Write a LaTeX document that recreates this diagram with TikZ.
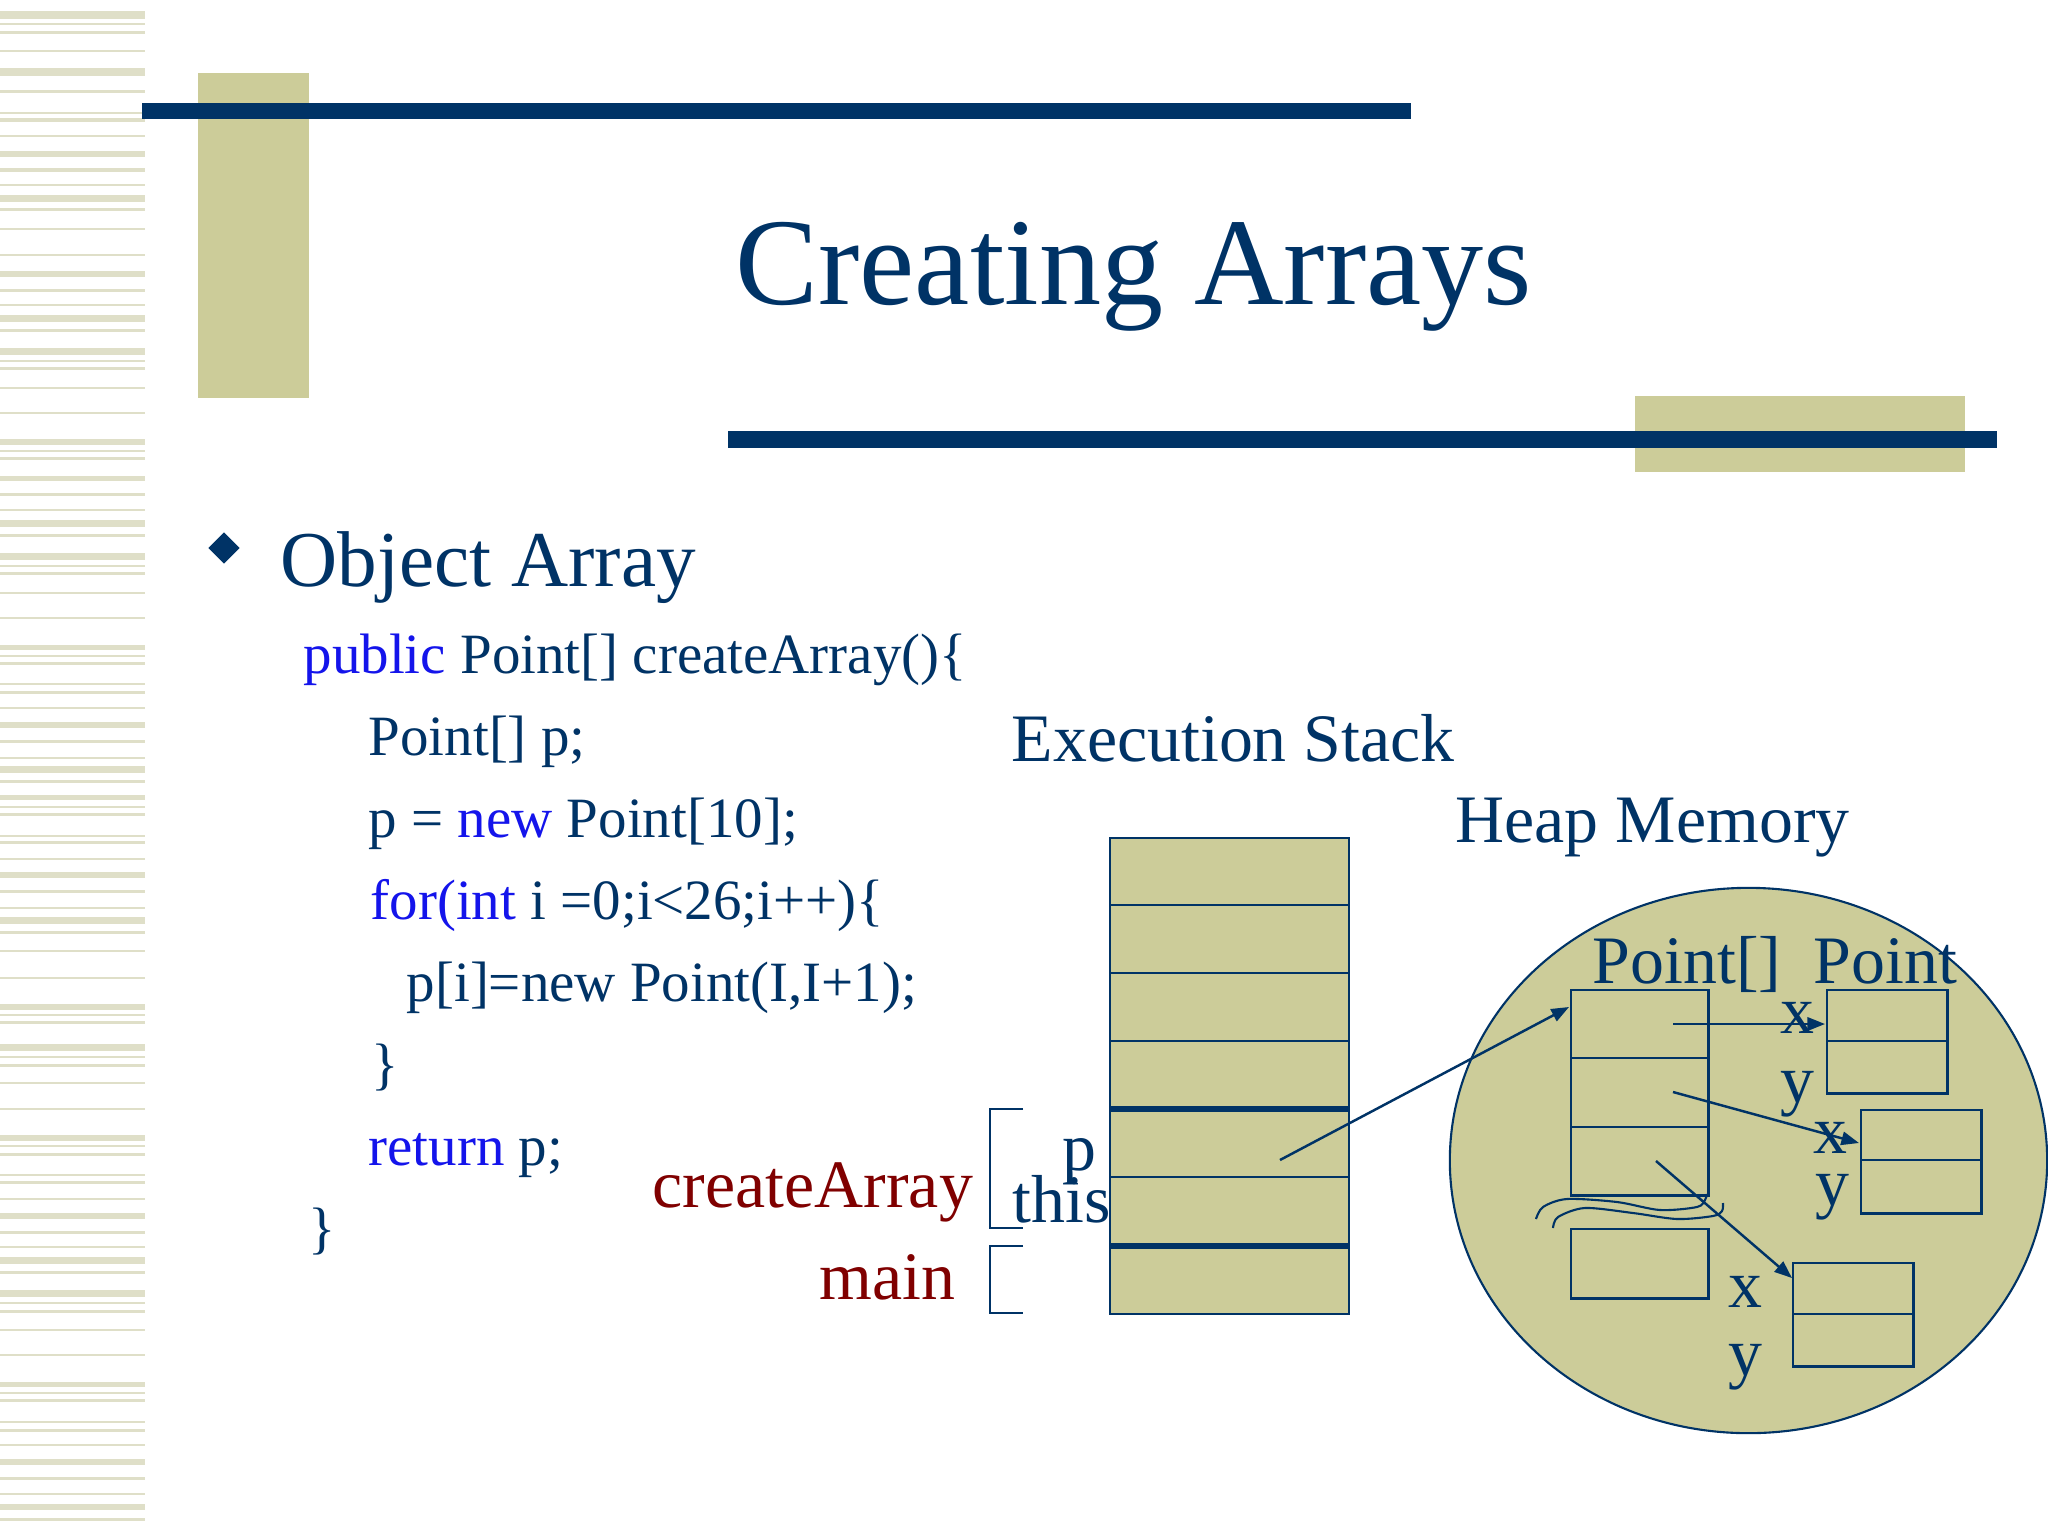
\documentclass[tikz,border=0pt]{standalone}
\usepackage{fontspec}
\setmainfont{Liberation Serif}
\usetikzlibrary{arrows.meta,shapes.geometric}
\definecolor{navy}{RGB}{0,51,102}
\definecolor{beige}{RGB}{204,204,153}
\definecolor{stripe}{RGB}{223,223,200}
\definecolor{kw}{RGB}{20,20,235}
\definecolor{dred}{RGB}{128,0,0}
\begin{document}
\begin{tikzpicture}[x=0.01cm,y=-0.01cm,
  txt/.style={inner sep=0pt,anchor=base west,text=navy},
  titlefont/.style={font=\fontsize{35.3pt}{42pt}\selectfont},
  bulletfont/.style={font=\fontsize{22.5pt}{27pt}\selectfont},
  codefont/.style={font=\fontsize{16.2pt}{20pt}\selectfont},
  labfont/.style={font=\fontsize{19.3pt}{23pt}\selectfont},
  thinline/.style={draw=navy,line width=0.6pt},
  thickline/.style={draw=navy,line width=1.7pt},
  heapbox/.style={draw=navy,line width=0.7pt,inner sep=0pt,anchor=north west},
  conn/.style={draw=navy,line width=0.7pt,-{Triangle[length=5pt,width=3.8pt]}},
  brk/.style={draw=navy,line width=0.6pt}]
\useasboundingbox (0,0) rectangle (2048,1536);
\fill[white] (0,0) rectangle (2048,1536);
% left stripes
\foreach \a/\b in {11/19,23/25,30.5/33.5,50/52,68/76,89.5/92.5,112/114,118/122,135/137,151/157,168/172,184/186,195/202,207.5/210.5,228/230,254/256,271/277,288.5/291.5,304/306,315/322,328.5/331.5,348/355,360/362,366.5/369.5,387/389,412/414,439/445,450/452,456.5/459.5,476/481,492.5/495.5,509/511,520/527,533.5/536.5,553/560,565/567,571.5/574.5,592/594,617/619,645/650,655/657,661.5/664.5,683/685,690.5/693.5,707/709,722/728,739.5/742.5,757/759,766/773,779.5/782.5,795/800,806/808,812.5/815.5,835/837,840.5/843.5,858/860,872/878,889.5/892.5,907/909,917/924,930.5/933.5,950/952,977/979,1004/1010,1014/1016,1020.5/1023.5,1044/1051,1056/1058,1063.5/1066.5,1082/1084,1108/1110,1135/1141,1145/1147,1152.5/1155.5,1174/1176,1180.5/1183.5,1198/1200,1213/1219,1230.5/1233.5,1246/1248,1257/1264,1270.5/1273.5,1290/1297,1302/1304,1309.5/1312.5,1329/1331,1354/1356,1382/1387,1392/1394,1398.5/1401.5,1421/1423,1428.5/1431.5,1444/1446,1459/1465,1476.5/1479.5,1493/1495,1504/1510,1517.5/1520.5}
  \fill[stripe] (0,\a) rectangle (145,\b);
% title decoration
\fill[beige] (198,73) rectangle (309,398);
\fill[navy] (142,103) rectangle (1411,119);
\fill[beige] (1635,396) rectangle (1965,472);
\fill[navy] (728,431) rectangle (1997,448);
\node[txt,titlefont] (title) at (735,304) {Creating Arrays};
% bullet
\node[diamond,fill=navy,inner sep=0pt,minimum width=0.32cm,minimum height=0.32cm] (bul) at (224,548) {};
\node[txt,bulletfont] (objarr) at (280,586) {Object Array};
% code
\node[txt,codefont] (c1) at (303,673) {\textcolor{kw}{public} Point[] createArray()\{};
\node[txt,codefont] (c2) at (368,755) {Point[] p;};
\node[txt,codefont] (c3) at (368,837) {p = \textcolor{kw}{new} Point[10];};
\node[txt,codefont] (c4) at (370,919) {\textcolor{kw}{for(int} i =0;i<26;i++)\{};
\node[txt,codefont] (c5) at (406,1001) {p[i]=new Point(I,I+1);};
\node[txt,codefont] (c6) at (371,1083) {\}};
\node[txt,codefont] (c7) at (368,1165) {\textcolor{kw}{return} p;};
\node[txt,codefont] (c8) at (308,1247) {\}};
% labels
\node[txt,labfont] (exst) at (1011,761) {Execution Stack};
\node[txt,labfont] (heapm) at (1455,842) {Heap Memory};
\node[txt,labfont,text=dred] (cra) at (652,1207) {createArray};
\node[txt,labfont,text=dred] (mainl) at (819,1299) {main};
% brackets
\draw[brk] (1023,1109) -- (990,1109) -- (990,1228) -- (1023,1228);
\draw[brk] (1023,1246) -- (990,1246) -- (990,1313) -- (1023,1313);
% stack
\node[draw=navy,line width=0.6pt,fill=beige,inner sep=0pt,anchor=north west,minimum width=2.39cm,minimum height=4.76cm] (stack) at (1109,837) {};
\foreach \yy in {905,973,1041,1177} \draw[thinline] (1109,\yy) -- (1348,\yy);
\foreach \yy in {1109,1246} \draw[thickline] (1109,\yy) -- (1348,\yy);
\node[txt,labfont] (pl) at (1062,1170) {p};
\node[txt,labfont] (thisl) at (1012,1222) {this};
% heap
\node[draw=navy,line width=0.6pt,fill=beige,ellipse,inner sep=0pt,minimum width=5.97cm,minimum height=5.45cm] (heap) at (1748.5,1160.5) {};
\node[heapbox,minimum width=1.37cm,minimum height=2.05cm] (arr) at (1570,989) {};
\draw[thinline,line width=0.7pt] (1570,1058) -- (1707,1058);
\draw[thinline,line width=0.7pt] (1570,1127) -- (1707,1127);
\node[heapbox,minimum width=1.37cm,minimum height=0.69cm] (arrend) at (1570,1228) {};
\node[heapbox,minimum width=1.20cm,minimum height=1.03cm] (ptA) at (1826,989) {};
\draw[thinline,line width=0.7pt] (1826,1041) -- (1946,1041);
\node[heapbox,minimum width=1.20cm,minimum height=1.03cm] (ptB) at (1860,1109) {};
\draw[thinline,line width=0.7pt] (1860,1160) -- (1980,1160);
\node[heapbox,minimum width=1.20cm,minimum height=1.03cm] (ptC) at (1792,1262) {};
\draw[thinline,line width=0.7pt] (1792,1314) -- (1912,1314);
% break marks
\draw[thinline] plot[smooth] coordinates {(1536,1219) (1543,1207) (1567,1199) (1617,1202) (1660,1210) (1697,1207) (1705,1200) (1707,1194)};
\draw[thinline] plot[smooth] coordinates {(1553,1228) (1558,1217) (1585,1208) (1633,1213) (1677,1219) (1713,1216) (1722,1211) (1723,1203)};
% heap labels
\node[txt,labfont] (pa) at (1592,983) {Point[]};
\node[txt,labfont] (po) at (1813,983) {Point};
\node[txt,labfont] (xA) at (1780,1033) {x};
\node[txt,labfont] (yA) at (1780,1102) {y};
\node[txt,labfont] (xB) at (1813,1153) {x};
\node[txt,labfont] (yB) at (1815,1205) {y};
\node[txt,labfont] (xC) at (1728,1307) {x};
\node[txt,labfont] (yC) at (1728,1375) {y};
% connectors
\coordinate (pref) at (1280,1160);
\coordinate (arrtip) at (1569,1007);
\coordinate (r1) at (1673,1024);
\coordinate (r2) at (1673,1092);
\coordinate (r3) at (1656,1161);
\coordinate (tA) at (1825,1024);
\coordinate (tB) at (1859,1143);
\coordinate (tC) at (1792,1278);
\draw[conn] (pref) -- (arrtip);
\draw[conn] (r1) -- (tA);
\draw[conn] (r2) -- (tB);
\draw[conn] (r3) -- (tC);
\end{tikzpicture}
\end{document}
